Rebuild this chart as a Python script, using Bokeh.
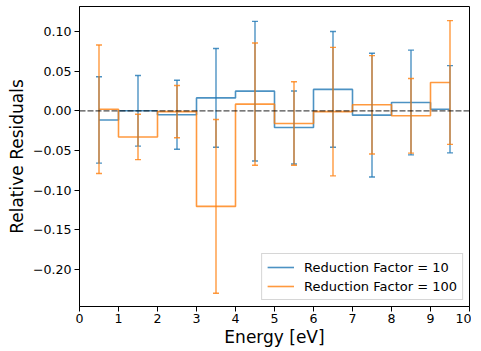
from bokeh.plotting import figure
from bokeh.models import (ColumnDataSource, Whisker, TeeHead, Span, Legend, LegendItem,
                          FixedTicker, CustomJSTickFormatter, Range1d)
from bokeh.embed import file_html
from bokeh.resources import INLINE

# ---- data ----
energy = [0.5, 1.5, 2.5, 3.5, 4.5, 5.5, 6.5, 7.5, 8.5, 9.5]
rf10 = [-0.0115, 0.000, -0.005, 0.0163, 0.0248, -0.021, 0.027, -0.0055, 0.0105, 0.002]
rf10_err = [0.0545, 0.0445, 0.0435, 0.0623, 0.088, 0.046, 0.073, 0.078, 0.066, 0.055]
rf100 = [0.002, -0.033, -0.001, -0.1205, 0.0084, -0.016, -0.001, 0.0076, -0.0063, 0.0357]
rf100_err = [0.081, 0.0286, 0.033, 0.1095, 0.077, 0.0526, 0.081, 0.062, 0.047, 0.078]
labels = ["Reduction Factor = 10", "Reduction Factor = 100"]
x_ticks = [0, 1, 2, 3, 4, 5, 6, 7, 8, 9, 10]
y_ticks = [-0.20, -0.15, -0.10, -0.05, 0.00, 0.05, 0.10]

BLUE = "#1f77b4"
ORANGE = "#ff7f0e"
FONT = "DejaVu Sans"

p = figure(frame_width=390, frame_height=300, output_backend="svg", toolbar_location=None,
           x_range=Range1d(0, 10), y_range=Range1d(-0.2467, 0.1315),
           min_border_left=79, min_border_right=2, min_border_top=6, min_border_bottom=0)
p.background_fill_color = "white"
p.border_fill_color = "white"
p.xgrid.visible = False
p.ygrid.visible = False
p.outline_line_color = "black"
p.outline_line_alpha = 1.0
p.outline_line_width = 1

legend_items = []
for vals, errs, col, lab in [(rf10, rf10_err, BLUE, labels[0]), (rf100, rf100_err, ORANGE, labels[1])]:
    src = ColumnDataSource(dict(
        x=energy, y=vals,
        upper=[v + e for v, e in zip(vals, errs)],
        lower=[v - e for v, e in zip(vals, errs)],
    ))
    r = p.step("x", "y", source=src, mode="center", line_color=col, line_width=1.6, line_alpha=0.8)
    w = Whisker(source=src, base="x", upper="upper", lower="lower", dimension="height",
                line_color=col, line_width=1.4, line_alpha=0.8, level="glyph",
                upper_head=TeeHead(size=6, line_color=col, line_width=1.4, line_alpha=0.8),
                lower_head=TeeHead(size=6, line_color=col, line_width=1.4, line_alpha=0.8))
    p.add_layout(w)
    legend_items.append(LegendItem(label=lab, renderers=[r]))

zero = Span(location=0, dimension="width", line_color="black", line_alpha=0.7,
            line_width=1.3, line_dash="6 2")
p.add_layout(zero)

legend = Legend(items=legend_items, location="bottom_right", margin=6, padding=5,
                spacing=3, glyph_width=27, glyph_height=16, label_height=16,
                label_standoff=10, label_text_font=FONT, label_text_font_size="13px",
                label_text_color="black",
                background_fill_color="white", background_fill_alpha=0.8,
                border_line_color="#cccccc", border_line_alpha=0.8, border_line_width=1)
p.add_layout(legend)

# axes
for ax in (p.xaxis[0], p.yaxis[0]):
    ax.axis_line_color = "black"
    ax.major_tick_line_color = "black"
    ax.major_tick_in = 0
    ax.major_tick_out = 5
    ax.minor_tick_line_color = None
    ax.major_label_text_font = FONT
    ax.major_label_text_font_size = "12.6px"
    ax.major_label_text_color = "black"
    ax.axis_label_text_font = FONT
    ax.axis_label_text_font_size = "17px"
    ax.axis_label_text_font_style = "normal"
    ax.axis_label_text_color = "black"

p.xaxis.ticker = FixedTicker(ticks=x_ticks)
p.yaxis.ticker = FixedTicker(ticks=y_ticks)
p.xaxis.axis_label = "Energy [eV]"
p.yaxis.axis_label = "Relative Residuals"
p.xaxis.major_label_standoff = 2
p.yaxis.major_label_standoff = 3
p.xaxis.axis_label_standoff = 1
p.yaxis.axis_label_standoff = 3
p.yaxis.formatter = CustomJSTickFormatter(
    code="const s = Math.abs(tick).toFixed(2); return (tick < -1e-9 ? '\u2212' : '') + s;")

open("out.html", "w").write(file_html(p, INLINE))
